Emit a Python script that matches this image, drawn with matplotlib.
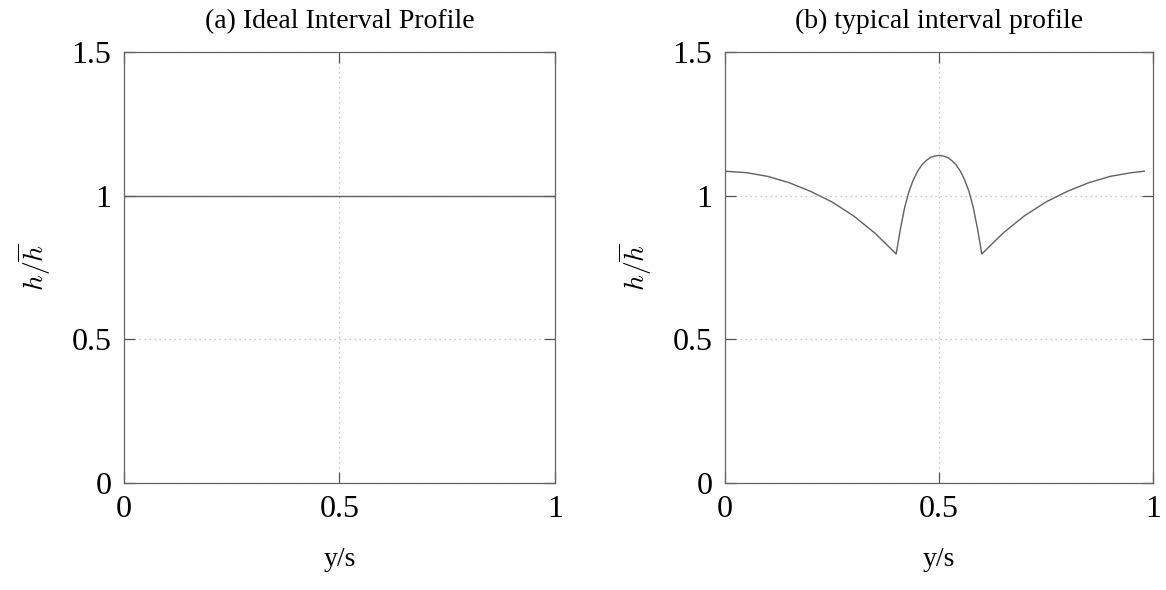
import matplotlib
matplotlib.use('Agg')
import matplotlib.pyplot as plt

# ideal profile
x_ideal = [0.0, 1.0]
h_ideal = [1.0, 1.0]

# typical profile
x_typ = [0.0, 0.05, 0.1, 0.15, 0.2, 0.25, 0.3, 0.35, 0.4,
         0.41, 0.42, 0.43, 0.44, 0.45, 0.46, 0.47, 0.48, 0.49, 0.5,
         0.51, 0.52, 0.53, 0.54, 0.55, 0.56, 0.57, 0.58, 0.59, 0.6,
         0.65, 0.7, 0.75, 0.8, 0.85, 0.9, 0.95, 0.98]
h_typ = [1.085, 1.08, 1.067, 1.045, 1.015, 0.978, 0.93, 0.87, 0.797,
         0.885, 0.96, 1.015, 1.055, 1.085, 1.107, 1.122, 1.133, 1.138, 1.14,
         1.138, 1.133, 1.122, 1.107, 1.085, 1.055, 1.015, 0.96, 0.885, 0.797,
         0.87, 0.93, 0.978, 1.015, 1.045, 1.067, 1.08, 1.085]

titles = ['(a) Ideal Interval Profile', '(b) typical interval profile']
xticks = [0, 0.5, 1]
yticks = [0, 0.5, 1, 1.5]

plt.rcParams['font.family'] = ['Liberation Serif', 'DejaVu Serif']
plt.rcParams['mathtext.fontset'] = 'cm'

fig = plt.figure(figsize=(11.66, 5.9), dpi=100)
ax1 = fig.add_axes([0.1063, 0.1814, 0.3696, 0.7305])
ax2 = fig.add_axes([0.6218, 0.1814, 0.3670, 0.7305])

for ax, xs, ys, title in [(ax1, x_ideal, h_ideal, titles[0]),
                          (ax2, x_typ, h_typ, titles[1])]:
    ax.plot(xs, ys, color='#606060', linewidth=1.0)
    ax.set_xlim(0, 1)
    ax.set_ylim(0, 1.5)
    ax.set_xticks(xticks)
    ax.set_xticklabels(['0', '0.5', '1'])
    ax.set_yticks(yticks)
    ax.set_yticklabels(['0', '0.5', '1', '1.5'])
    ax.grid(True, linestyle=(0, (1, 3)), color='#bbbbbb', linewidth=0.9)
    ax.tick_params(direction='in', length=8, width=0.9, color='#555555',
                   labelsize=23, top=True, right=True, pad=9)
    for s in ax.spines.values():
        s.set_color('#666666')
        s.set_linewidth(0.9)
    ax.set_title(title, fontsize=20, pad=17)
    ax.set_xlabel('y/s', fontsize=20, labelpad=16)
    ax.set_ylabel(r'$h/\overline{h}$', fontsize=20, labelpad=13)

fig.savefig('out.png', dpi=100)
